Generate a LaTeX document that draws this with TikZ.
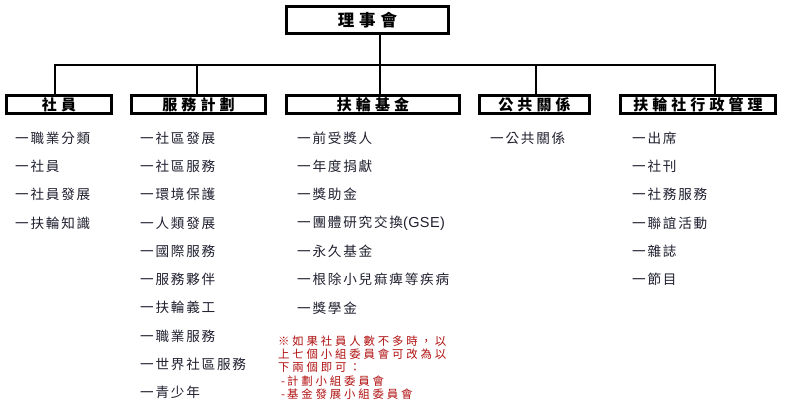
\documentclass[tikz,border=0pt]{standalone}
\usepackage{fontspec}
\newfontfamily\itemfont[LetterSpace=13]{Noto Sans CJK TC}
\newfontfamily\titlefont[LetterSpace=27]{Noto Sans CJK TC}
\newfontfamily\topfont[LetterSpace=30]{Noto Sans CJK TC}
\newfontfamily\notefont[LetterSpace=25]{Noto Sans CJK TC}
\newfontfamily\latinfont[LetterSpace=3]{Liberation Sans}
\definecolor{itemcol}{HTML}{202030}
\definecolor{notecol}{HTML}{B01010}
\begin{document}
\begin{tikzpicture}[x=1pt,y=-1pt,
  box/.style={draw=black,line width=2.6pt,inner sep=0pt,minimum height=18.5pt,
    font=\fontsize{15}{16}\titlefont\bfseries},
  conn/.style={draw=black,line width=2.3pt},
  itm/.style={anchor=west,inner sep=0pt,text=itemcol,font=\fontsize{13.6}{15}\itemfont},
  note/.style={anchor=west,inner sep=0pt,text=notecol,font=\fontsize{11.4}{12}\notefont}]
\useasboundingbox (0,0) rectangle (799,417);
\fill[white] (0,0) rectangle (799,417);
% boxes
\node[box,minimum width=162.5pt,minimum height=27.5pt,font=\fontsize{16.5}{17}\topfont\bfseries] (top) at (367.5,20) {理事會};
\node[box,minimum width=105.5pt] (box1) at (59,104.5) {社員};
\node[box,minimum width=134.5pt] (box2) at (198.5,104.5) {服務計劃};
\node[box,minimum width=173.5pt] (box3) at (373,104.5) {扶輪基金};
\node[box,minimum width=110.5pt] (box4) at (534.5,104.5) {公共關係};
\node[box,minimum width=155.5pt] (box5) at (698,104.5) {扶輪社行政管理};
% bus
\coordinate (b1) at (55,65);
\coordinate (b2) at (197,65);
\coordinate (b3) at (380,65);
\coordinate (b4) at (536,65);
\coordinate (b5) at (715,65);
\draw[conn] (b1 |- box1.north) -- (b1) -- (b5) -- (b5 |- box5.north);
\draw[conn] (b2) -- (b2 |- box2.north);
\draw[conn] (b4) -- (b4 |- box4.north);
\draw[conn] (b3 |- top.south) -- (b3 |- box3.north);
% items
\foreach \t [count=\i] in {職業分類,社員,社員發展,扶輪知識}
  \node[itm] (c1-\i) at (15,{138+(\i-1)*28.3}) {一\t};
\foreach \t [count=\i] in {社區發展,社區服務,環境保護,人類發展,國際服務,服務夥伴,扶輪義工,職業服務,世界社區服務,青少年}
  \node[itm] (c2-\i) at (140,{138+(\i-1)*28.3}) {一\t};
\foreach \t [count=\i] in {前受獎人,年度捐獻,獎助金,{團體研究交換{\fontsize{14.5}{15}\latinfont(GSE)}},永久基金,根除小兒痲痺等疾病,獎學金}
  \node[itm] (c3-\i) at (297,{138+(\i-1)*28.3}) {一\t};
\node[itm] (c4-1) at (490,138) {一公共關係};
\foreach \t [count=\i] in {出席,社刊,社務服務,聯誼活動,雜誌,節目}
  \node[itm] (c5-\i) at (632,{138+(\i-1)*28.3}) {一\t};
% note
\node[note] (n1) at (278,341) {※如果社員人數不多時，以};
\node[note] (n2) at (278,354) {上七個小組委員會可改為以};
\node[note] (n3) at (278,367.5) {下兩個即可：};
\node[note] (n4) at (281,381) {-\,計劃小組委員會};
\node[note] (n5) at (281,394) {-\,基金發展小組委員會};
\end{tikzpicture}
\end{document}
